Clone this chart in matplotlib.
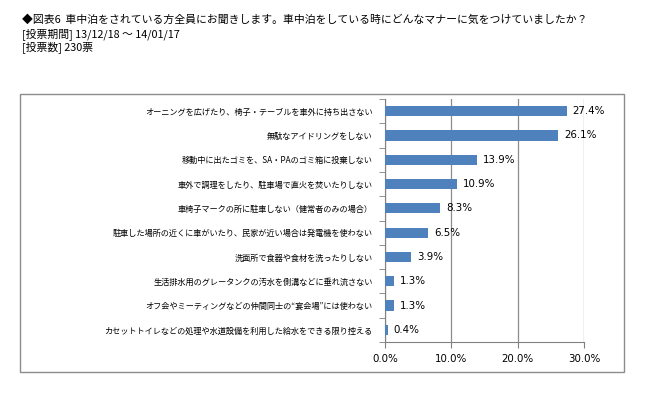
import matplotlib
matplotlib.use("Agg")
import matplotlib.pyplot as plt
from matplotlib.patches import Rectangle
from matplotlib.ticker import FixedLocator

plt.rcParams['font.family'] = ['Noto Sans CJK JP', 'DejaVu Sans']

# data, top to bottom
labels = [
    "オーニングを広げたり、椅子・テーブルを車外に持ち出さない",
    "無駄なアイドリングをしない",
    "移動中に出たゴミを、SA・PAのゴミ箱に投棄しない",
    "車外で調理をしたり、駐車場で直火を焚いたりしない",
    "車椅子マークの所に駐車しない（健常者のみの場合）",
    "駐車した場所の近くに車がいたり、民家が近い場合は発電機を使わない",
    "洗面所で食器や食材を洗ったりしない",
    "生活排水用のグレータンクの汚水を側溝などに垂れ流さない",
    "オフ会やミーティングなどの仲間同士の“宴会場”には使わない",
    "カセットトイレなどの処理や水道設備を利用した給水をできる限り控える",
]
values = [27.4, 26.1, 13.9, 10.9, 8.3, 6.5, 3.9, 1.3, 1.3, 0.4]
xticks = [0, 10, 20, 30]
xticklabels = ["0.0%", "10.0%", "20.0%", "30.0%"]

W, H = 650, 397
fig = plt.figure(figsize=(W / 100, H / 100), dpi=100)

# header text
fig.text(22 / W, 1 - 20 / H, "◆図表6  車中泊をされている方全員にお聞きします。車中泊をしている時にどんなマナーに気をつけていましたか？",
         fontsize=7.8, va="center", ha="left")
fig.text(22 / W, 1 - 34 / H, "[投票期間] 13/12/18 〜 14/01/17", fontsize=7.8, va="center", ha="left")
fig.text(22 / W, 1 - 47 / H, "[投票数] 230票", fontsize=7.8, va="center", ha="left")

# outer chart frame
fig.patches.append(Rectangle((20 / W, 1 - 372 / H), 604 / W, 278 / H, transform=fig.transFigure,
                             fill=False, edgecolor="#8c8c8c", linewidth=1.0))

ax = fig.add_axes([385 / W, 55 / H, 199 / W, 243 / H])
y = list(range(len(values)))
ax.barh(y, values, height=0.42, color="#4f81bd", zorder=3)
for yi, v in zip(y, values):
    ax.text(v + 0.9, yi, f"{v:.1f}%", va="center", ha="left", fontsize=7.4,
            family=["DejaVu Sans"], zorder=4)

ax.set_xlim(0, 30)
ax.set_ylim(len(values) - 0.5, -0.5)
ax.set_xticks(xticks)
ax.set_xticklabels(xticklabels, fontsize=7.4, family=["DejaVu Sans"])
ax.set_yticks(y)
ax.set_yticklabels(labels, fontsize=5.9)
ax.yaxis.set_minor_locator(FixedLocator([i - 0.5 for i in range(len(values) + 1)]))
ax.tick_params(axis="y", which="major", length=0, pad=9)
ax.tick_params(axis="y", which="minor", length=4, color="#808080", direction="out")
ax.tick_params(axis="x", length=4, color="#808080", direction="out", pad=5)

ax.grid(axis="x", color="#8c8c8c", linewidth=0.9, zorder=0)
for s in ["top", "right"]:
    ax.spines[s].set_visible(False)
ax.spines["left"].set_color("#808080")
ax.spines["bottom"].set_color("#808080")

fig.savefig("out.png", dpi=100)
